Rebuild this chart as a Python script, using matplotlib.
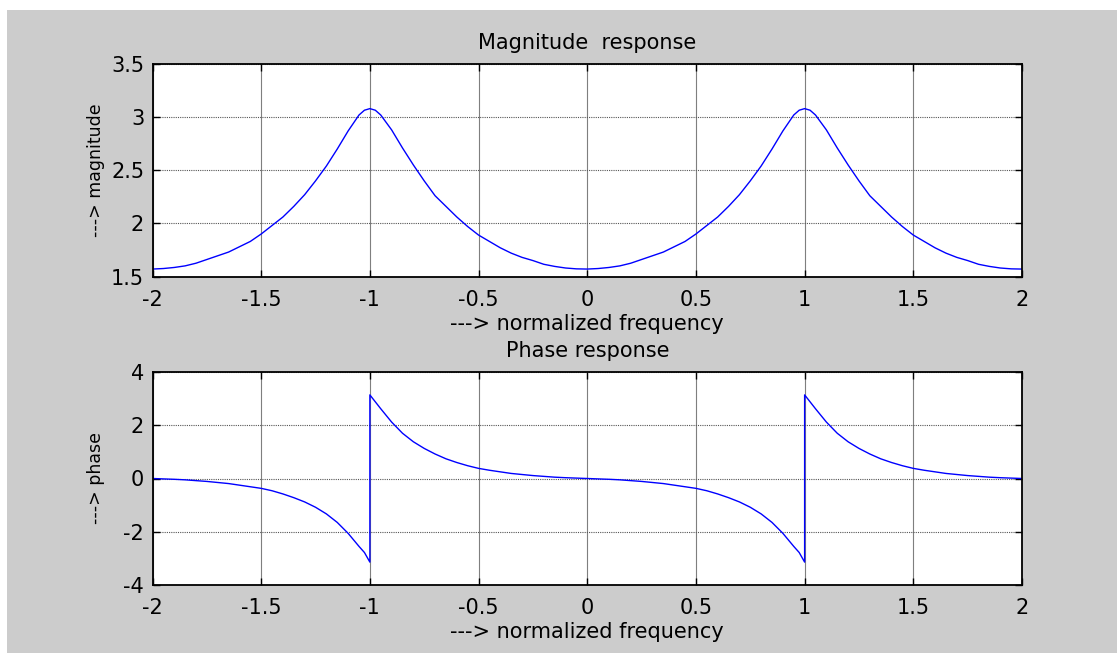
import numpy as np
import matplotlib
matplotlib.use("Agg")
import matplotlib.pyplot as plt
from matplotlib.patches import Rectangle
from matplotlib.ticker import FuncFormatter

plt.rcParams['font.family'] = ['DejaVu Sans']
plt.rcParams['axes.unicode_minus'] = False

# normalized frequency samples (denser near the peaks)
freq = [-2.0, -1.95, -1.9, -1.85, -1.8, -1.75, -1.7, -1.65, -1.6, -1.55,
        -1.5, -1.45, -1.4, -1.35, -1.3, -1.25, -1.2, -1.15, -1.1, -1.05,
        -1.025, -1.0, -0.975, -0.95, -0.9, -0.85, -0.8, -0.75, -0.7, -0.65, -0.6, -0.55,
        -0.5, -0.45, -0.4, -0.35, -0.3, -0.25, -0.2, -0.15, -0.1, -0.05,
        0.0, 0.05, 0.1, 0.15, 0.2, 0.25, 0.3, 0.35, 0.4, 0.45,
        0.5, 0.55, 0.6, 0.65, 0.7, 0.75, 0.8, 0.85, 0.9, 0.95,
        0.975, 1.0, 1.025, 1.05, 1.1, 1.15, 1.2, 1.25, 1.3, 1.35, 1.4, 1.45,
        1.5, 1.55, 1.6, 1.65, 1.7, 1.75, 1.8, 1.85, 1.9, 1.95, 2.0]

magnitude = [1.57, 1.575, 1.585, 1.60, 1.625, 1.66, 1.695, 1.73, 1.78, 1.83,
             1.90, 1.98, 2.06, 2.16, 2.27, 2.40, 2.54, 2.70, 2.87, 3.02,
             3.065, 3.08, 3.065, 3.02, 2.88, 2.71, 2.55, 2.40, 2.26, 2.16, 2.06, 1.97,
             1.89, 1.83, 1.77, 1.72, 1.68, 1.65, 1.615, 1.595, 1.58, 1.572,
             1.57, 1.575, 1.585, 1.60, 1.625, 1.66, 1.695, 1.73, 1.78, 1.83,
             1.90, 1.98, 2.06, 2.16, 2.27, 2.40, 2.54, 2.70, 2.87, 3.02,
             3.065, 3.08, 3.065, 3.02, 2.88, 2.71, 2.55, 2.40, 2.26, 2.16, 2.06, 1.97,
             1.89, 1.83, 1.77, 1.72, 1.68, 1.65, 1.615, 1.595, 1.58, 1.572, 1.57]

# phase has a jump at -1 and 1, so those points appear twice
freq_ph = [-2.0, -1.95, -1.9, -1.85, -1.8, -1.75, -1.7, -1.65, -1.6, -1.55,
           -1.5, -1.45, -1.4, -1.35, -1.3, -1.25, -1.2, -1.15, -1.1, -1.05,
           -1.025, -1.0, -1.0, -0.975, -0.95, -0.9, -0.85, -0.8, -0.75, -0.7, -0.65, -0.6, -0.55,
           -0.5, -0.45, -0.4, -0.35, -0.3, -0.25, -0.2, -0.15, -0.1, -0.05,
           0.0, 0.05, 0.1, 0.15, 0.2, 0.25, 0.3, 0.35, 0.4, 0.45,
           0.5, 0.55, 0.6, 0.65, 0.7, 0.75, 0.8, 0.85, 0.9, 0.95,
           0.975, 1.0, 1.0, 1.025, 1.05, 1.1, 1.15, 1.2, 1.25, 1.3, 1.35, 1.4, 1.45,
           1.5, 1.55, 1.6, 1.65, 1.7, 1.75, 1.8, 1.85, 1.9, 1.95, 2.0]

phase = [0.0, -0.015, -0.03, -0.05, -0.08, -0.11, -0.15, -0.19, -0.25, -0.31,
         -0.37, -0.46, -0.58, -0.72, -0.88, -1.08, -1.33, -1.65, -2.06, -2.55,
         -2.78, -3.14, 3.14, 2.88, 2.62, 2.12, 1.70, 1.38, 1.13, 0.92, 0.74, 0.60, 0.48,
         0.38, 0.31, 0.25, 0.19, 0.15, 0.11, 0.08, 0.05, 0.03, 0.015,
         0.0, -0.015, -0.03, -0.05, -0.08, -0.11, -0.15, -0.19, -0.25, -0.31,
         -0.37, -0.46, -0.58, -0.72, -0.88, -1.08, -1.33, -1.65, -2.06, -2.55,
         -2.78, -3.14, 3.14, 2.88, 2.62, 2.12, 1.70, 1.38, 1.13, 0.92, 0.74, 0.60, 0.48,
         0.38, 0.31, 0.25, 0.19, 0.15, 0.11, 0.08, 0.05, 0.03, 0.015, 0.0]

W, H = 1117, 653
fig = plt.figure(figsize=(W / 100, H / 100), dpi=100, facecolor='white')
fig.patches.append(Rectangle((7 / W, 0), 1 - 7 / W, (H - 10) / H,
                             transform=fig.transFigure, facecolor='#cccccc',
                             edgecolor='none', zorder=-10))

left, right = 152.5 / W, 1022 / W
ax1 = fig.add_axes([left, 1 - 276.5 / H, right - left, (276.5 - 64) / H])
ax2 = fig.add_axes([left, 1 - 585 / H, right - left, (585 - 372) / H])

fmt = FuncFormatter(lambda v, p: '%g' % v)

def style(ax, yticks, ylabel, title):
    ax.set_facecolor('white')
    ax.set_xlim(-2, 2)
    ax.set_ylim(yticks[0], yticks[-1])
    ax.set_xticks(np.arange(-2, 2.01, 0.5))
    ax.set_yticks(yticks)
    ax.xaxis.set_major_formatter(fmt)
    ax.yaxis.set_major_formatter(fmt)
    ax.tick_params(direction='in', top=True, right=True, length=5, width=1,
                   labelsize=15, pad=6)
    ax.tick_params(axis='x', pad=9.5)
    ax.grid(axis='x', color='#7f7f7f', linestyle='-', linewidth=0.8)
    ax.grid(axis='y', color='#555555', linestyle=(0, (1, 1)), linewidth=0.8)
    for s in ax.spines.values():
        s.set_linewidth(1.3)
    ax.set_xlabel('---> normalized frequency', fontsize=15, labelpad=3)
    ax.set_ylabel(ylabel, fontsize=12.5)
    ax.yaxis.set_label_coords(-0.055, 0.5)
    ax.set_title(title, fontsize=15, pad=11)

ax1.plot(freq, magnitude, color='blue', linewidth=1)
style(ax1, [1.5, 2, 2.5, 3, 3.5], '---> magnitude', 'Magnitude  response')

ax2.plot(freq_ph, phase, color='blue', linewidth=1)
style(ax2, [-4, -2, 0, 2, 4], '---> phase', 'Phase response')

fig.savefig('out.png', dpi=100, facecolor=fig.get_facecolor())
